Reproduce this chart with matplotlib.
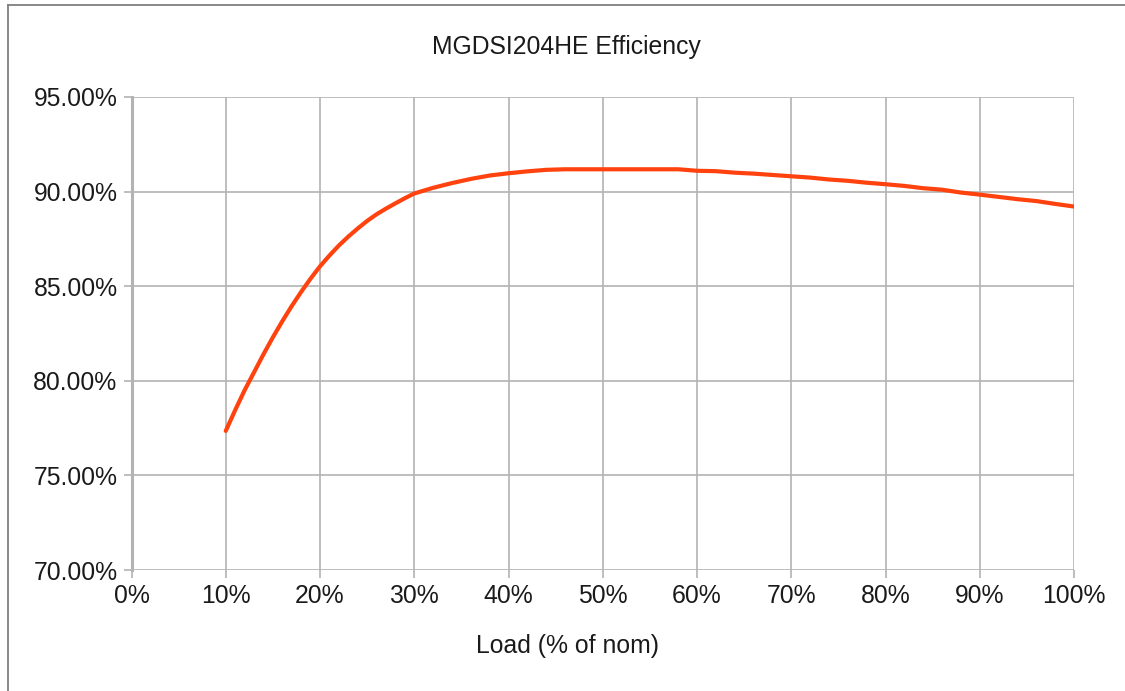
import matplotlib
matplotlib.use("Agg")
import matplotlib.pyplot as plt
from matplotlib.lines import Line2D
from matplotlib.ticker import FixedLocator, FuncFormatter

# ---- data ----
load_pct = [10, 11, 12, 13, 14, 15, 16, 17, 18, 19, 20,
            21, 22, 23, 24, 25, 26, 27, 28, 29, 30,
            32, 34, 36, 38, 40, 42, 44, 46, 48, 50, 52, 54, 56, 58,
            60, 62, 64, 66, 68, 70, 72, 74, 76, 78, 80,
            82, 84, 86, 88, 90, 92, 94, 96, 98, 100]
efficiency = [77.35, 78.45, 79.5, 80.45, 81.4, 82.3, 83.15, 83.95, 84.7, 85.4, 86.05,
              86.62, 87.15, 87.62, 88.05, 88.45, 88.8, 89.1, 89.38, 89.65, 89.9,
              90.2, 90.45, 90.67, 90.85, 90.97, 91.07, 91.15, 91.18, 91.18, 91.18, 91.18, 91.18, 91.18, 91.18,
              91.1, 91.08, 91.0, 90.95, 90.88, 90.81, 90.74, 90.64, 90.57, 90.47, 90.39,
              90.3, 90.18, 90.1, 89.95, 89.84, 89.72, 89.6, 89.5, 89.35, 89.21]
x_ticks = [0, 10, 20, 30, 40, 50, 60, 70, 80, 90, 100]
y_ticks = [70, 75, 80, 85, 90, 95]
title = "MGDSI204HE Efficiency"
x_label = "Load (% of nom)"

plt.rcParams['font.family'] = ['Liberation Sans', 'DejaVu Sans']
FS = 17.8

W, H = 1125, 691
fig = plt.figure(figsize=(W / 100, H / 100), dpi=100)
fig.patch.set_facecolor("white")

ax = fig.add_axes([131.5 / W, 1 - 570 / H, (1074 - 131.5) / W, (570 - 97) / H])
ax.plot(load_pct, efficiency, color="#ff420e", lw=3.0, solid_capstyle="round",
        solid_joinstyle="round", zorder=3)

ax.set_xlim(0, 100)
ax.set_ylim(70, 95)
ax.xaxis.set_major_locator(FixedLocator(x_ticks))
ax.yaxis.set_major_locator(FixedLocator(y_ticks))
ax.xaxis.set_major_formatter(FuncFormatter(lambda v, p: f"{v:.0f}%"))
ax.yaxis.set_major_formatter(FuncFormatter(lambda v, p: f"{v:.2f}%"))

ax.grid(True, color="#b3b3b3", lw=1.2, zorder=1)
for s in ["top", "right", "bottom"]:
    ax.spines[s].set_visible(False)
ax.spines["left"].set_color("#b3b3b3")
ax.spines["left"].set_linewidth(2.2)
ax.tick_params(axis="both", length=6, width=1.2, color="#b3b3b3",
               labelsize=FS, labelcolor="#1a1a1a", pad=4)
ax.set_axisbelow(True)

fig.text(566 / W, 1 - 47 / H, title, ha="center", va="center", fontsize=FS, color="#1a1a1a")
fig.text(567 / W, 1 - 646 / H, x_label, ha="center", va="center", fontsize=FS, color="#1a1a1a")

# outer frame (top and left edges visible in the reference)
fig.add_artist(Line2D([7.5 / W, 1.0], [1 - 5 / H, 1 - 5 / H], transform=fig.transFigure,
                      color="#7f7f7f", lw=1.3))
fig.add_artist(Line2D([7.5 / W, 7.5 / W], [0, 1 - 5 / H], transform=fig.transFigure,
                      color="#7f7f7f", lw=1.3))

fig.savefig("out.png", dpi=100, facecolor="white")
